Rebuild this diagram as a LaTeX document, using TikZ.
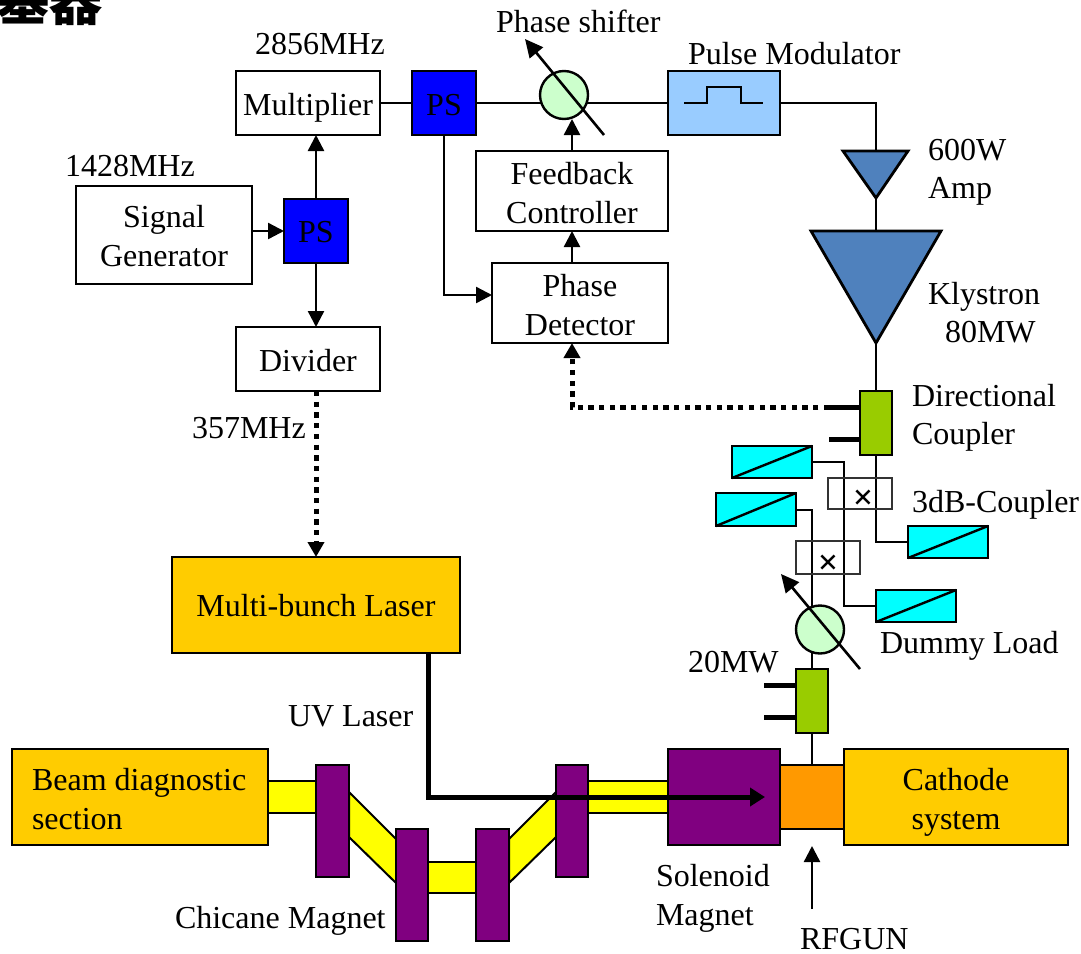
\documentclass[tikz,border=0pt]{standalone}
\usepackage{fontspec}
\setmainfont{Liberation Serif}
\newfontfamily\cjkfont{Noto Sans CJK JP}
\usetikzlibrary{arrows.meta,backgrounds}
\definecolor{psblue}{HTML}{0000FF}
\definecolor{modblue}{HTML}{99CCFF}
\definecolor{shiftgreen}{HTML}{CCFFCC}
\definecolor{cplgreen}{HTML}{99CC00}
\definecolor{ampblue}{HTML}{4F81BD}
\definecolor{gold}{HTML}{FFCC00}
\definecolor{rforange}{HTML}{FF9900}
\definecolor{magpurple}{HTML}{800080}
\definecolor{beamyellow}{HTML}{FFFF00}
\definecolor{loadcyan}{HTML}{00FFFF}
\newcommand{\bx}[7][]{\node[#3,#1,minimum width={(#6-#4)*1pt},minimum height={(#7-#5)*1pt}] (#2) at ({(#4+#6)/2},{(#5+#7)/2}) {};}
\newcommand{\bxt}[8][]{\node[#3,#1,minimum width={(#6-#4)*1pt},minimum height={(#7-#5)*1pt}] (#2) at ({(#4+#6)/2},{(#5+#7)/2}) {#8};}
\tikzset{
  x=1pt,y=-1pt,
  txt/.style={font=\fontsize{32}{38.5}\selectfont,text=black,inner sep=0pt,outer sep=0pt},
  tb/.style={text depth=0pt,text height=#1},
  shape base/.style={draw=black,line width=2.4pt,rectangle,inner sep=0pt,outer sep=0pt,align=center,font=\fontsize{32}{38.5}\selectfont},
  whitebox/.style={shape base,fill=white},
  psbox/.style={shape base,fill=psblue},
  modbox/.style={shape base,fill=modblue},
  cplbox/.style={shape base,fill=cplgreen},
  goldbox/.style={shape base,fill=gold},
  magnet/.style={shape base,fill=magpurple},
  gunbox/.style={shape base,fill=rforange},
  loadbox/.style={shape base,fill=loadcyan},
  crossbox/.style={shape base,line width=1.8pt,draw=black!80},
  shifter/.style={circle,draw=black,line width=2.4pt,fill=shiftgreen,inner sep=0pt,outer sep=0pt,minimum size=48pt},
  wire/.style={draw=black,line width=2.4pt},
  thinwire/.style={draw=black,line width=2pt},
  arrowwire/.style={wire,-{Triangle[length=16pt,width=16pt]}},
  stub/.style={draw=black,line width=5pt},
  dotwire/.style={draw=black,line width=5pt,dash pattern=on 5.3pt off 5.4pt,-{Triangle[length=15pt,width=16pt]}},
  uvline/.style={draw=black,line width=5pt,-{Triangle[length=15pt,width=18pt]}},
  ampshape/.style={draw=black,line width=2.8pt,fill=ampblue,line join=miter},
  beam/.style={draw=black,line width=2pt,fill=beamyellow},
  tuner/.style={draw=black,line width=2.6pt,-{Triangle[length=18pt,width=17pt]}},
}
\begin{document}
\begin{tikzpicture}
\useasboundingbox (0,0) rectangle (1081,953);

% clipped heading at the top edge
\node[font=\cjkfont\bfseries\fontsize{53}{60}\selectfont,anchor=base west,inner sep=0pt] (heading) at (-4,20) {基器};

% boxes
\bxt[tb=24pt]{mult}{whitebox}{236}{71}{380}{135}{Multiplier}
\bxt[tb=24pt]{psa}{psbox}{412}{71}{476}{135}{PS}
\bxt{pm}{modbox}{668}{71}{780}{135}{}
\bxt[tb=64pt]{fc}{whitebox}{476}{151}{668}{231}{Feedback\\Controller}
\bxt[tb=64pt]{pd}{whitebox}{492}{263}{668}{343}{Phase\\Detector}
\bxt[tb=62pt]{sg}{whitebox}{76}{186}{252}{284}{Signal\\Generator}
\bxt[tb=22pt]{psb}{psbox}{284}{199}{348}{263}{PS}
\bxt[tb=24pt]{dv}{whitebox}{236}{327}{380}{391}{Divider}
\bxt[tb=23pt]{laser}{goldbox}{172}{557}{460}{653}{Multi-bunch Laser}
\bx{dca}{cplbox}{860}{391}{892}{455}
\bx{dcb}{cplbox}{796}{669}{828}{733}
\bx{la}{loadbox}{732}{446}{812}{478}
\bx{lb}{loadbox}{716}{493}{796}{526}
\bx{lc}{loadbox}{908}{526}{988}{558}
\bx{ld}{loadbox}{876}{590}{956}{622}
\bx{xa}{crossbox}{828}{478}{892}{509}
\bx{xb}{crossbox}{796}{541}{860}{574}
\bx{bd}{goldbox}{12}{749}{268}{845}
\bx{sol}{magnet}{668}{749}{780}{845}
\bx{gun}{gunbox}{780}{765}{844}{829}
\bxt[tb=64pt]{cath}{goldbox}{844}{749}{1068}{845}{Cathode\\system}
\bx{ma}{magnet}{316}{765}{349}{877}
\bx{mb}{magnet}{396}{829}{428}{941}
\bx{mc}{magnet}{476}{829}{509}{941}
\bx{md}{magnet}{556}{765}{588}{877}
\node[shifter] (sha) at (564,95) {};
\node[shifter] (shb) at (820,629.5) {};

% free ends
\coordinate (ampT) at (876,151);
\coordinate (ampB) at (876,198);
\coordinate (klyT) at (876,231);
\coordinate (klyB) at (876,343);
\coordinate (pdl) at (492,295);
\coordinate (pdb) at (572,343);
\coordinate (pdt) at (572,263);
\coordinate (fctip) at (572,119);
\coordinate (staa) at (829,407);
\coordinate (stab) at (829,439);
\coordinate (stba) at (764,685);
\coordinate (stbb) at (764,717);
\coordinate (uvs) at (428,653);
\coordinate (uve) at (765,797);
\coordinate (rfs) at (812,909);
\coordinate (rfe) at (812,846);
\coordinate (tas) at (604,135);
\coordinate (tae) at (525,39);
\coordinate (tbs) at (860,669);
\coordinate (tbe) at (781,574);

% beam line and wires run behind the boxes
\begin{pgfonlayer}{background}
  \filldraw[beam] (bd.east |- 0,781) rectangle (ma.center |- 0,813);
  \filldraw[beam] (md.center |- 0,781) rectangle (sol.center |- 0,813);
  \filldraw[beam] (mb.center |- 0,862) rectangle (mc.center |- 0,893);
  \filldraw[beam] (349,792) -- (396,839) -- (396,883) -- (349,837) -- cycle;
  \filldraw[beam] (556,792) -- (509,839) -- (509,883) -- (556,837) -- cycle;
  \draw[wire] (mult.east) -- (psa.west);
  \draw[wire] (psa.east) -- (pm.west);
  \draw[wire] (pm.east) -| (ampT);
  \draw[wire] (ampB) -- (klyT);
  \draw[wire] (klyB) -- (dca.north);
  \draw[wire] (dcb.south) -- (gun.north);
  \draw[thinwire] (la.east) -- ++(32,0) |- (ld.west);
  \draw[thinwire] (lb.east) -| (dcb.north);
  \draw[wire] (dca.south) |- (lc.west);
\end{pgfonlayer}

% pulse symbol
\draw[wire] (684,103) -- (707,103) -- (707,87) -- (741,87) -- (741,103) -- (763,103);

% amplifiers
\filldraw[ampshape] (843,151) -- (908,151) -- (ampB) -- cycle;
\filldraw[ampshape] (811,231) -- (941,231) -- (klyB) -- cycle;

% load diagonals
\foreach \n in {la,lb,lc,ld} \draw[wire] (\n.south west) -- (\n.north east);

% crosses
\node[txt,font=\bfseries\fontsize{36}{38}\selectfont] (cxa) at (863,500) {×};
\node[txt,font=\bfseries\fontsize{36}{38}\selectfont] (cxb) at (828,564.5) {×};

% arrows
\draw[arrowwire] (psb.north) -- (psb.north |- mult.south);
\draw[arrowwire] (psb.south) -- (psb.south |- dv.north);
\draw[arrowwire] (sg.east |- psb.west) -- (psb.west);
\draw[arrowwire] (psa.south) |- (pdl);
\draw[arrowwire] (pdt) -- (pdt |- fc.south);
\draw[arrowwire] (fc.north) -- (fctip);
\draw[tuner] (tas) -- (tae);
\draw[tuner] (tbs) -- (tbe);
\draw[arrowwire] (rfs) -- (rfe);

% thick stubs and dotted links
\draw[stub] (staa) -- (staa -| dca.west);
\draw[stub] (stab) -- (stab -| dca.west);
\draw[stub] (stba) -- (stba -| dcb.west);
\draw[stub] (stbb) -- (stbb -| dcb.west);
\draw[dotwire] (staa) -| (pdb);
\draw[dotwire] (dv.south -| laser.north) -- (laser.north);
\draw[uvline] (uvs) |- (uve);

% labels
\node[txt,anchor=base west] (t2856) at (255,54) {2856MHz};
\node[txt,anchor=base west] (t1428) at (65,176) {1428MHz};
\node[txt,anchor=base west] (t357) at (192,438) {357MHz};
\node[txt,anchor=base west] (tshift) at (496,32) {Phase shifter};
\node[txt,anchor=base west] (tpulse) at (688,64) {Pulse Modulator};
\node[txt,anchor=base west] (t600) at (928,160) {600W};
\node[txt,anchor=base west] (tamp) at (928,198) {Amp};
\node[txt,anchor=base west] (tkly) at (928,304) {Klystron};
\node[txt,anchor=base west] (t80) at (945,342) {80MW};
\node[txt,anchor=base west] (tdir) at (912,406) {Directional};
\node[txt,anchor=base west] (tcou) at (912,444) {Coupler};
\node[txt,anchor=base west] (t3db) at (912,512) {3dB-Coupler};
\node[txt,anchor=base west] (tdum) at (880,653) {Dummy Load};
\node[txt,anchor=base west] (t20) at (688,672) {20MW};
\node[txt,anchor=base west] (tuv) at (288,726) {UV Laser};
\node[txt,anchor=base west] (tbe1) at (32,790) {Beam diagnostic};
\node[txt,anchor=base west] (tbe2) at (32,829) {section};
\node[txt,anchor=base west] (tsol) at (656,886) {Solenoid};
\node[txt,anchor=base west] (tmag) at (656,925) {Magnet};
\node[txt,anchor=base west] (tchi) at (175,928) {Chicane Magnet};
\node[txt,anchor=base west,text depth=0pt] (trf) at (800,949) {RFGUN};
\end{tikzpicture}
\end{document}
